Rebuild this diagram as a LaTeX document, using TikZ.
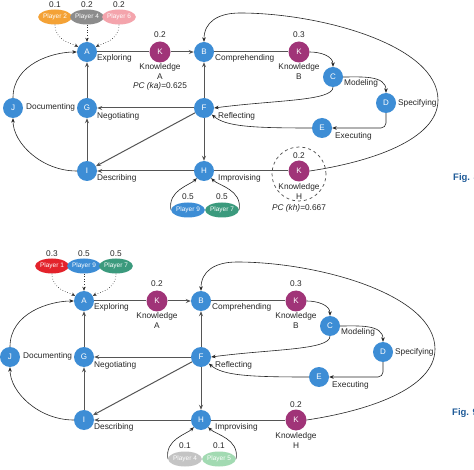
\documentclass[tikz,border=0pt]{standalone}
\usepackage{fontspec}
\setmainfont{Liberation Sans}
\usetikzlibrary{arrows.meta,shapes.geometric}
\definecolor{nodeblue}{HTML}{3D8DD5}
\definecolor{kpurple}{HTML}{A03478}
\definecolor{porange}{HTML}{F4A236}
\definecolor{pgray}{HTML}{8C8C8C}
\definecolor{ppink}{HTML}{F4A4AC}
\definecolor{pteal}{HTML}{3B9A7D}
\definecolor{pred}{HTML}{E3222B}
\definecolor{plgray}{HTML}{C4C4C4}
\definecolor{plgreen}{HTML}{A2DAB2}
\definecolor{figblue}{HTML}{1F5B98}
\definecolor{edgegray}{HTML}{555555}
\tikzset{
 st/.style={circle, fill=nodeblue, text=white, minimum size=20pt, inner sep=0pt, font=\fontsize{8}{9}\selectfont},
 kn/.style={st, fill=kpurple, minimum size=21pt},
 pl/.style={ellipse, minimum width=31pt, minimum height=15pt, inner sep=0pt, text=white, font=\fontsize{6.5}{7}\selectfont},
 lbl/.style={inner sep=0pt, font=\fontsize{8.3}{10}\selectfont, text=black!85},
 sedge/.style={draw=edgegray, line width=1pt, -{Stealth[length=5pt,width=4pt]}},
 pline/.style={draw=edgegray, line width=1pt},
 cedge/.style={draw=black!85, line width=0.6pt, -{Stealth[length=4.5pt,width=3.6pt]}},
 dedge/.style={draw=black!80, line width=0.6pt, dotted, -{Stealth[length=4pt,width=3.4pt]}},
}
\newcommand\coregraph{%
 \node[st] (A) at (87,417) {A};
 \node[kn] (KA) at (160,417) {K};
 \node[st] (B) at (204,417) {B};
 \node[kn] (KB) at (299,417) {K};
 \node[st] (C) at (333,392) {C};
 \node[st] (D) at (386,366) {D};
 \node[st] (E) at (322,341) {E};
 \node[st] (F) at (204,361) {F};
 \node[st] (G) at (87,361) {G};
 \node[st] (J) at (13,361) {J};
 \node[st] (I) at (87,298) {I};
 \node[st] (H) at (204,298) {H};
 \node[kn] (KH) at (299,298) {K};
 \node[lbl,anchor=west] (lA) at (97,411) {Exploring};
 \node[lbl,anchor=west] (lB) at (215,411) {Comprehending};
 \node[lbl,anchor=west] (lC) at (344,386) {Modeling};
 \node[lbl,anchor=west] (lD) at (398,366) {Specifying};
 \node[lbl,anchor=west] (lE) at (335,333) {Executing};
 \node[lbl,anchor=west] (lF) at (218,353) {Reflecting};
 \node[lbl,anchor=west] (lG) at (97,353) {Negotiating};
 \node[lbl,anchor=west] (lJ) at (26,362) {Documenting};
 \node[lbl,anchor=west] (lI) at (97,291) {Describing};
 \node[lbl,anchor=west] (lH) at (218,291) {Improvising};
 \node[lbl] (kaval) at (160,434) {0.2};
 \node[lbl,align=center] (kaname) at (160,398) {Knowledge\\A};
 \node[lbl] (kbval) at (299,434) {0.3};
 \node[lbl,align=center] (kbname) at (299,398) {Knowledge\\B};
 \node[lbl] (khval) at (299,313) {0.2};
 \node[lbl,align=center] (khname) at (299,278) {Knowledge\\H};
 \draw[pline] (A) -- (KA);
 \draw[sedge] (KA) -- (B);
 \draw[pline] (B) -- (KB);
 \draw[cedge] (KB.east) to[out=0,in=90] (C.north);
 \draw[cedge] (C.east) to[out=0,in=90] (D.north);
 \draw[cedge] (C.south) .. controls +(0,-14) and +(60,8) .. (F.east);
 \draw[cedge, rounded corners=5pt] (D.south) |- (E.east);
 \draw[cedge] (E.west) .. controls +(-60,0) and +(14,-12) .. (F.-40);
 \draw[sedge] (F) -- (B);
 \draw[sedge] (F) -- (G);
 \draw[sedge] (F) -- (I);
 \draw[sedge] (F) -- (H);
 \draw[sedge] (G) -- (A);
 \draw[sedge] (I) -- (G);
 \draw[sedge] (H) -- (I);
 \draw[cedge] (I) to[out=180,in=-90] (J);
 \draw[cedge] (J) to[out=90,in=180] (A);
 \draw[pline] (H) -- (KH);
 \draw[cedge] (KH.east) .. controls (370,307) and (438,329) .. (438,369)
   .. controls (438,424) and (320,456) .. (240,456)
   .. controls (218,456) and (204,447) .. (B.north);
}
\begin{document}
\begin{tikzpicture}[x=1pt,y=1pt]
\useasboundingbox (0,0) rectangle (474,469);
\fill[white] (0,0) rectangle (474,469);
% ---------- top diagram (Fig. 8)
\begin{scope}[name prefix=t-]
 \node[draw=black!70, dashed, line width=0.7pt, circle, minimum size=54pt, inner sep=0pt] (ring) at (299,295) {};
 \coregraph
 \node[lbl] (pcka) at (160,383) {\textit{PC (ka)}=0.625};
 \node[lbl] (pckh) at (299,261) {\textit{PC (kh)}=0.667};
 \node[pl, fill=porange] (P2) at (55,452) {Player 2};
 \node[pl, fill=pgray] (P4) at (87,452) {Player 4};
 \node[pl, fill=ppink] (P6) at (119,452) {Player 6};
 \node[lbl] (v2) at (55,464) {0.1};
 \node[lbl] (v4) at (87,464) {0.2};
 \node[lbl] (v6) at (119,464) {0.2};
 \draw[dedge] (P2.south) to[out=-90,in=150] (A);
 \draw[dedge] (P4) -- (A);
 \draw[dedge] (P6.south) to[out=-90,in=30] (A);
 \node[pl, fill=nodeblue] (P9) at (188,259) {Player 9};
 \node[pl, fill=pteal] (P7) at (222,259) {Player 7};
 \node[lbl] (v9) at (188,272) {0.5};
 \node[lbl] (v7) at (222,272) {0.5};
 \draw[cedge] (P9.west) to[out=100,in=-135] (H);
 \draw[cedge] (P7.east) to[out=80,in=-45] (H);
\end{scope}
% ---------- bottom diagram (Fig. 9)
\begin{scope}[name prefix=b-, shift={(-3,-249)}]
 \coregraph
 \node[pl, fill=pred] (P1) at (55,452) {Player 1};
 \node[pl, fill=nodeblue] (P9) at (87,452) {Player 9};
 \node[pl, fill=pteal] (P7) at (119,452) {Player 7};
 \node[lbl] (v1) at (55,464) {0.3};
 \node[lbl] (v9) at (87,464) {0.5};
 \node[lbl] (v7) at (119,464) {0.5};
 \draw[dedge] (P1.south) to[out=-90,in=150] (A);
 \draw[dedge] (P9) -- (A);
 \draw[dedge] (P7.south) to[out=-90,in=30] (A);
 \node[pl, fill=plgray] (P4) at (188,259) {Player 4};
 \node[pl, fill=plgreen] (P5) at (222,259) {Player 5};
 \node[lbl] (v4) at (188,272) {0.1};
 \node[lbl] (v5) at (222,272) {0.1};
 \draw[cedge] (P4.west) to[out=100,in=-135] (H);
 \draw[cedge] (P5.east) to[out=80,in=-45] (H);
\end{scope}
\node[anchor=west, inner sep=0pt, text=figblue, font=\bfseries\fontsize{9.5}{11}\selectfont] (fig8) at (453,291) {Fig. 8};
\node[anchor=west, inner sep=0pt, text=figblue, font=\bfseries\fontsize{9.5}{11}\selectfont] (fig9) at (452,56) {Fig. 9};
\end{tikzpicture}
\end{document}
